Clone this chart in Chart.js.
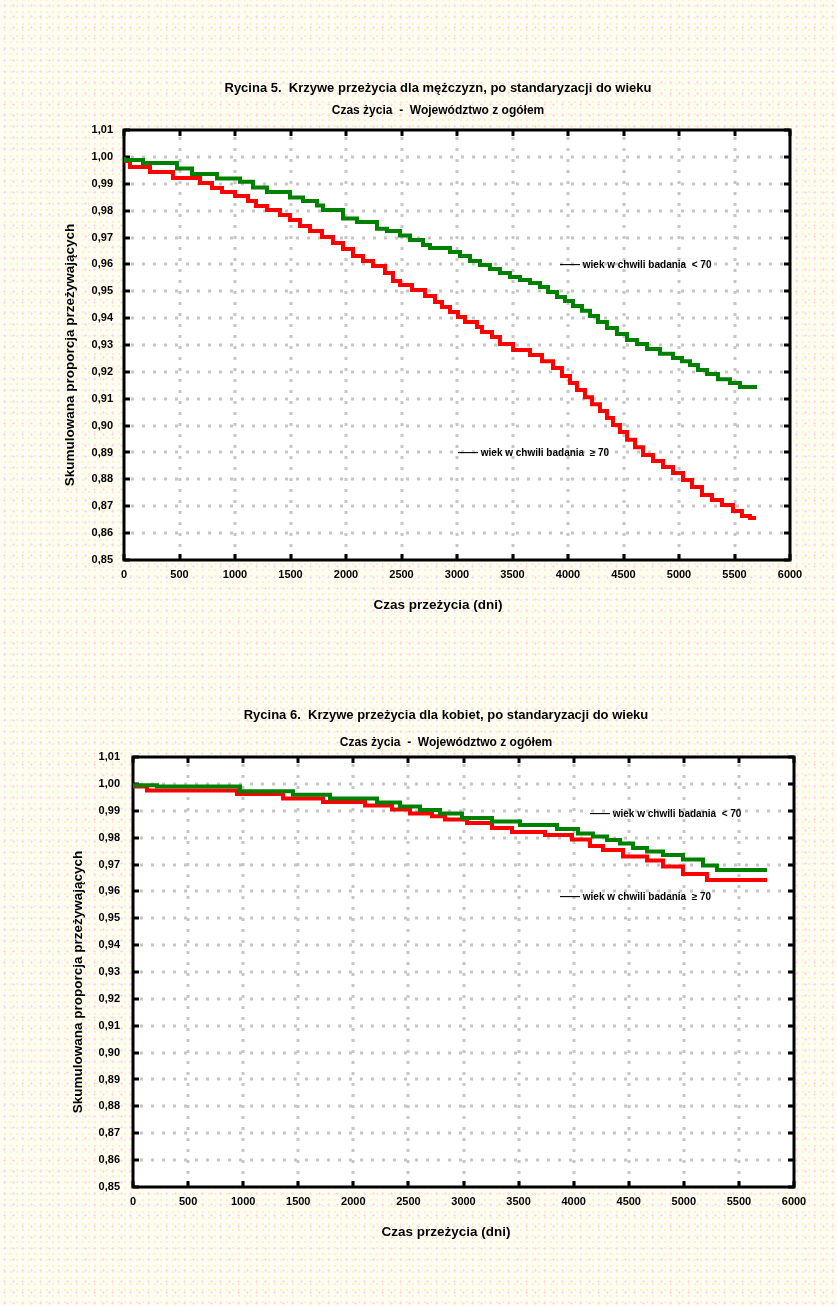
<!DOCTYPE html>
<html><head><meta charset="utf-8">
<script src="https://cdn.jsdelivr.net/npm/chart.js@4"></script>
<style>
html,body{margin:0;padding:0;}
body{width:837px;height:1306px;position:relative;overflow:hidden;
background-color:#fffdf3;
background-image:radial-gradient(circle,#ffd0f4 0.9px,transparent 1.2px),radial-gradient(circle,#fff2bc 1.2px,transparent 1.5px);
background-size:9px 11px,6px 6px;background-position:0 0,2px 3px;}
.box{position:absolute;left:0;width:837px;}
</style></head><body>
<div class="box" style="top:0;height:650px"><canvas id="c1"></canvas></div>
<div class="box" style="top:650px;height:656px"><canvas id="c2"></canvas></div>
<script>
// ---- tick values ----
const xTicks = [0,500,1000,1500,2000,2500,3000,3500,4000,4500,5000,5500,6000];
const yTicks = [0.85,0.86,0.87,0.88,0.89,0.90,0.91,0.92,0.93,0.94,0.95,0.96,0.97,0.98,0.99,1.00,1.01];

// ---- Chart 1: men ----
const menYoungDays = [0,171,477,613,838,1045,1162,1288,1495,1613,1739,1793,1973,2099,2279,2369,2487,2577,2694,2757,2937,3027,3117,3207,3297,3387,3477,3568,3658,3748,3820,3901,3973,4045,4126,4198,4270,4351,4441,4532,4622,4712,4829,4946,5027,5099,5171,5252,5351,5459,5549,5621,5703];
const menYoungSurv = [1.000,0.9988,0.9977,0.9957,0.9936,0.9920,0.9907,0.9886,0.9869,0.9849,0.9836,0.9819,0.9802,0.9771,0.9758,0.9733,0.9724,0.9707,0.9691,0.9672,0.9661,0.9646,0.9631,0.9613,0.9598,0.9583,0.9568,0.9553,0.9542,0.9531,0.9516,0.9497,0.9479,0.9464,0.9445,0.9427,0.9408,0.9386,0.9363,0.9341,0.9319,0.9304,0.9285,0.9267,0.9252,0.9240,0.9226,0.9207,0.9192,0.9173,0.9159,0.9144,0.9144];
const menOldDays = [0,54,234,441,685,793,883,1000,1117,1189,1288,1405,1495,1586,1676,1784,1883,1973,2063,2153,2243,2351,2423,2487,2595,2712,2802,2865,2937,3009,3072,3180,3225,3315,3387,3505,3658,3766,3865,3946,4018,4081,4153,4216,4288,4351,4405,4468,4532,4604,4676,4766,4856,4946,5036,5117,5207,5297,5387,5486,5567,5640,5694];
const menOldSurv = [1.000,0.9985,0.9962,0.9944,0.9921,0.9903,0.9884,0.9869,0.9854,0.9836,0.9817,0.9802,0.9784,0.9765,0.9743,0.9724,0.9702,0.9680,0.9657,0.9631,0.9613,0.9594,0.9568,0.9538,0.9523,0.9505,0.9482,0.9460,0.9441,0.9423,0.9404,0.9386,0.9367,0.9348,0.9330,0.9304,0.9281,0.9263,0.9240,0.9214,0.9185,0.9159,0.9133,0.9106,0.9080,0.9054,0.9028,0.9002,0.8976,0.8947,0.8920,0.8891,0.8868,0.8846,0.8824,0.8798,0.8772,0.8742,0.8723,0.8705,0.8682,0.8664,0.8656];

// ---- Chart 2: women ----
const womenYoungDays = [0,218,971,1452,1788,2215,2424,2605,2787,2986,3259,3513,3849,4039,4175,4303,4421,4539,4666,4811,4992,5174,5301,5483,5755];
const womenYoungSurv = [1.000,0.9995,0.9990,0.9973,0.9960,0.9946,0.9931,0.9916,0.9903,0.9890,0.9873,0.9860,0.9847,0.9832,0.9815,0.9804,0.9791,0.9778,0.9761,0.9748,0.9735,0.9719,0.9696,0.9680,0.9680];
const womenOldDays = [0,127,944,1362,1725,2106,2351,2514,2714,2832,3032,3259,3440,3740,3985,4148,4266,4448,4666,4811,4992,5210,5419,5755];
const womenOldSurv = [1.000,0.9990,0.9975,0.9962,0.9946,0.9933,0.9920,0.9905,0.9890,0.9880,0.9867,0.9854,0.9836,0.9821,0.9810,0.9793,0.9769,0.9754,0.9730,0.9715,0.9693,0.9665,0.9642,0.9642];

// ---- texts ----
const titles1 = ['Rycina 5.  Krzywe przeżycia dla mężczyzn, po standaryzacji do wieku','Czas życia  -  Województwo z ogółem'];
const titles2 = ['Rycina 6.  Krzywe przeżycia dla kobiet, po standaryzacji do wieku','Czas życia  -  Województwo z ogółem'];
const xTitle = 'Czas przeżycia (dni)';
const yTitle = 'Skumulowana proporcja przeżywających';
const seriesNames = ['—— wiek w chwili badania  < 70','—— wiek w chwili badania  ≥ 70'];

const FONT = '"Liberation Sans", Arial, sans-serif';
const zip = (d, s) => d.map((v, i) => ({x: v, y: s[i]}));

function decor(t) {
  return {
    id: 'decor',
    beforeDraw(chart) {
      const {ctx, chartArea: a} = chart;
      ctx.save();
      ctx.fillStyle = '#ffffff';
      ctx.fillRect(a.left, a.top, a.right - a.left, a.bottom - a.top);
      ctx.restore();
    },
    beforeDatasetsDraw(chart) {
      const {ctx, chartArea: a, scales: {x, y}} = chart;
      ctx.save();
      ctx.strokeStyle = '#c8c5c5';
      ctx.lineWidth = 3;
      ctx.setLineDash([3, 8]);
      yTicks.forEach((v, i) => {
        if (i === 0 || i === yTicks.length - 1) return;
        const py = Math.round(y.getPixelForValue(v));
        ctx.beginPath(); ctx.moveTo(a.left + 7, py); ctx.lineTo(a.right - 2, py); ctx.stroke();
      });
      xTicks.forEach((v, i) => {
        if (i === 0 || i === xTicks.length - 1) return;
        const px = Math.round(x.getPixelForValue(v));
        ctx.beginPath(); ctx.moveTo(px, a.top + 7); ctx.lineTo(px, a.bottom - 2); ctx.stroke();
      });
      ctx.setLineDash([]);
      ctx.strokeStyle = '#000';
      ctx.lineWidth = 3;
      yTicks.forEach(v => {
        const py = Math.round(y.getPixelForValue(v));
        ctx.beginPath(); ctx.moveTo(a.left, py); ctx.lineTo(a.left + 6, py); ctx.stroke();
        ctx.beginPath(); ctx.moveTo(a.right, py); ctx.lineTo(a.right - 6, py); ctx.stroke();
      });
      xTicks.forEach(v => {
        const px = Math.round(x.getPixelForValue(v));
        ctx.beginPath(); ctx.moveTo(px, a.bottom); ctx.lineTo(px, a.bottom - 6); ctx.stroke();
        ctx.beginPath(); ctx.moveTo(px, a.top); ctx.lineTo(px, a.top + 6); ctx.stroke();
      });
      ctx.strokeRect(a.left, a.top, a.right - a.left, a.bottom - a.top);
      ctx.restore();
    },
    afterDraw(chart) {
      const {ctx, chartArea: a, scales: {x, y}} = chart;
      ctx.save();
      ctx.fillStyle = '#000';
      ctx.textAlign = 'center';
      ctx.textBaseline = 'middle';
      ctx.font = 'bold 13px ' + FONT;
      ctx.fillText(t.titles[0], t.tx, a.top + t.t1);
      ctx.font = 'bold 12px ' + FONT;
      ctx.fillText(t.titles[1], t.tx, a.top + t.t2);
      ctx.font = 'bold 13.5px ' + FONT;
      ctx.fillText(xTitle, t.tx, a.bottom + 45);
      ctx.save();
      ctx.translate(t.yx, (a.top + a.bottom) / 2 + 10);
      ctx.rotate(-Math.PI / 2);
      ctx.fillText(yTitle, 0, 0);
      ctx.restore();
      ctx.font = 'bold 10px ' + FONT;
      ctx.textAlign = 'left';
      t.notes.forEach(n => {
        ctx.fillText(n.text, x.getPixelForValue(n.x), y.getPixelForValue(n.y));
      });
      ctx.restore();
    }
  };
}

function makeChart(id, dsets, pad, yWidth, yPad, t) {
  return new Chart(document.getElementById(id), {
    type: 'line',
    data: {datasets: dsets},
    options: {
      responsive: true, maintainAspectRatio: false, animation: false,
      layout: {padding: pad},
      plugins: {legend: {display: false}, tooltip: {enabled: false}, title: {display: false}},
      elements: {point: {radius: 0}, line: {borderWidth: 4, stepped: 'after', tension: 0, fill: false}},
      scales: {
        x: {
          type: 'linear', min: 0, max: 6000,
          afterBuildTicks: s => { s.ticks = xTicks.map(v => ({value: v})); },
          afterFit: s => { s.height = 30; },
          grid: {display: false, drawTicks: false}, border: {display: false},
          ticks: {padding: 8, color: '#000', autoSkip: false, maxRotation: 0,
            font: {family: FONT, size: 11, weight: 'bold'}, callback: v => String(v)}
        },
        y: {
          type: 'linear', min: 0.85, max: 1.01,
          afterBuildTicks: s => { s.ticks = yTicks.map(v => ({value: v})); },
          afterFit: s => { s.width = yWidth; },
          grid: {display: false, drawTicks: false}, border: {display: false},
          ticks: {padding: yPad, color: '#000', autoSkip: false,
            font: {family: FONT, size: 11, weight: 'bold'},
            callback: v => Number(v).toFixed(2).replace('.', ',')}
        }
      }
    },
    plugins: [decor(t)]
  });
}

makeChart('c1', [
  {label: seriesNames[0], data: zip(menYoungDays, menYoungSurv), borderColor: '#008000'},
  {label: seriesNames[1], data: zip(menOldDays, menOldSurv), borderColor: '#ff0000'}
], {left: 0, right: 47, top: 130, bottom: 60}, 124, 11, {
  titles: titles1, tx: 438, t1: -42, t2: -19, yx: 70,
  notes: [{x: 3928, y: 0.9598, text: seriesNames[0]}, {x: 3009, y: 0.8898, text: seriesNames[1]}]
});

makeChart('c2', [
  {label: seriesNames[0], data: zip(womenYoungDays, womenYoungSurv), borderColor: '#008000'},
  {label: seriesNames[1], data: zip(womenOldDays, womenOldSurv), borderColor: '#ff0000'}
], {left: 0, right: 43, top: 107, bottom: 89}, 133, 13, {
  titles: titles2, tx: 446, t1: -42, t2: -14, yx: 78,
  notes: [{x: 4148, y: 0.9888, text: seriesNames[0]}, {x: 3876, y: 0.9579, text: seriesNames[1]}]
});
</script></body></html>
